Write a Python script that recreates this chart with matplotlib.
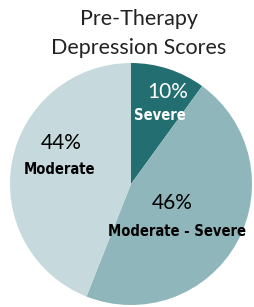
import matplotlib.pyplot as plt

labels = ['Severe', 'Moderate - Severe', 'Moderate']
values = [10, 46, 44]
colors = ['#236e71', '#8fb6ba', '#c6dadd']
pct_colors = ['white', 'black', 'black']

fig = plt.figure(figsize=(2.54, 3.07), dpi=100)
ax = fig.add_axes([10/254, 2/307, 242/254, 242/307])

ax.pie(values, colors=colors, startangle=90, counterclock=False,
       wedgeprops=dict(linewidth=0))
ax.set_xlim(-1, 1)
ax.set_ylim(-1, 1)
ax.set_aspect('auto')
ax.axis('off')

# label positions (pie units)
pos = [(0.30, 0.76, 0.24, 0.57),
       (0.34, -0.16, 0.38, -0.39),
       (-0.58, 0.34, -0.59, 0.12)]

light = ['Lato', 'DejaVu Sans']
for lab, v, c, (px, py, lx, ly) in zip(labels, values, pct_colors, pos):
    ax.text(px, py, f'{v}%', ha='center', va='center', fontsize=15,
            color=c, family=light)
    ax.text(lx, ly, lab, ha='center', va='center', fontsize=10.5,
            color=c, family='DejaVu Sans', fontstretch='condensed',
            fontweight='bold')

fig.text(139/254, 1 - 19/307, 'Pre-Therapy', ha='center', va='center',
         fontsize=15.5, family=light, color='#222222')
fig.text(139/254, 1 - 48/307, 'Depression Scores', ha='center', va='center',
         fontsize=15.5, family=light, color='#222222')

fig.savefig('out.png', dpi=100)
